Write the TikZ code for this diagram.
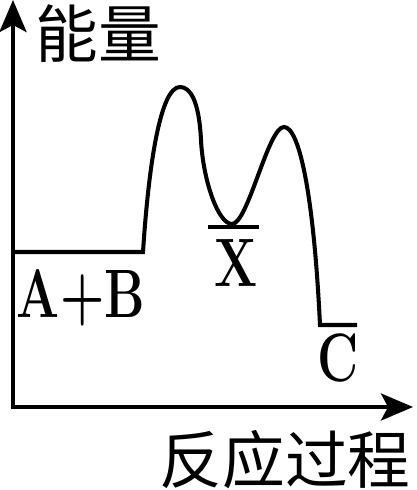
\documentclass[tikz,border=0pt]{standalone}
\usepackage{fontspec}
\newfontfamily\cjk{Noto Sans CJK SC}
\usetikzlibrary{arrows.meta}
\newcommand{\narrow}[1]{\scalebox{0.74}[1]{\rmfamily\bfseries #1}}

\begin{document}
\begin{tikzpicture}[x=0.02cm,y=0.02cm,line width=2.3pt,
      >={Stealth[length=0.64cm,width=0.54cm,inset=0.14cm]},
      lbl/.style={inner sep=0pt,anchor=base,font=\fontsize{39pt}{42pt}\selectfont},
      axlbl/.style={inner sep=0pt,font=\cjk\fontsize{35.7pt}{38pt}\selectfont}]
      \useasboundingbox (0,0) rectangle (416,490);

      % axes
      \coordinate (o)    at ( 13,  83);
      \coordinate (ytop) at ( 13, 490);
      \coordinate (xend) at (413,  83);
      \draw[<->] (ytop) -- (o) -- (xend);

      \node[axlbl] (en) at ( 98, 456) {能量};
      \node[axlbl] (pr) at (285,  30) {反应过程};

      % levels and humps
      \coordinate (ab0) at ( 13, 238);
      \coordinate (ab1) at (143, 238);
      \coordinate (ts1) at (180, 403);   % first peak
      \coordinate (sh)  at (201, 350);
      \coordinate (xm)  at (232, 266);   % intermediate
      \coordinate (ts2) at (284, 363);   % second peak
      \coordinate (c0)  at (320, 165);
      \coordinate (c1)  at (357, 165);

      \draw (ab0) -- (ab1)
        .. controls (149,330) and (161,403) .. (ts1)
        .. controls (190,403) and (199,390) .. (sh)
        .. controls (203,310) and (218,266) .. (xm)
        .. controls (248,266) and (268,363) .. (ts2)
        .. controls (300,363) and (314,290) .. (c0)
        -- (c1);

      \coordinate (x0) at (208, 263);
      \coordinate (x1) at (259, 263);
      \draw (x0) -- (x1);

      \node[lbl] (ab) at ( 81, 172) {\narrow{A+B}};
      \node[lbl] (xl) at (236, 203) {\narrow{X}};
      \node[lbl] (cl) at (338, 108) {\narrow{C}};
\end{tikzpicture}
\end{document}
